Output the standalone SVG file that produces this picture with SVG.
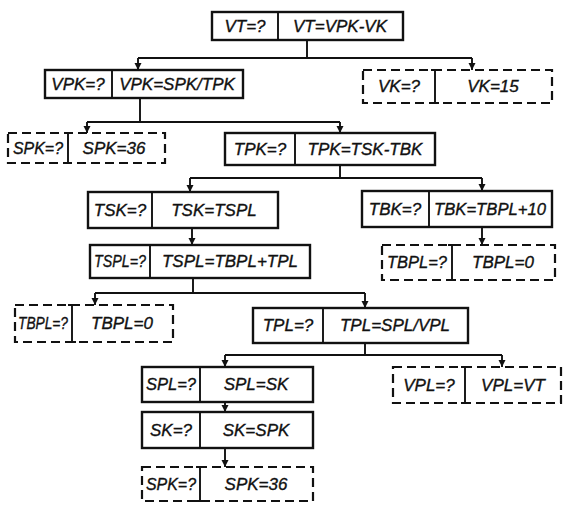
<svg xmlns="http://www.w3.org/2000/svg" width="567" height="506" viewBox="0 0 567 506">
<style>
.box{fill:#fff;stroke:#111;stroke-width:2.4}
.dbox{fill:#fff;stroke:#111;stroke-width:2.2;stroke-dasharray:9 5}
.div{stroke:#111;stroke-width:1.9;fill:none}
.t{font-family:"Liberation Sans",Arial,sans-serif;font-style:italic;font-size:17px;fill:#111;stroke:#111;stroke-width:0.35;text-anchor:middle}
.c{stroke:#111;stroke-width:1.9;fill:none}
.a{stroke:#111;stroke-width:1.9;fill:none;marker-end:url(#ah)}
</style>
<defs>
<marker id="ah" markerUnits="userSpaceOnUse" markerWidth="8" markerHeight="8" refX="7" refY="4" orient="auto">
<path d="M0,0.5 L7,4 L0,7.5 z" fill="#111"/>
</marker>
</defs>
<rect width="567" height="506" fill="#fff"/>
<g id="connectors">
<path class="c" d="M307,40 V58 M138,58 H472"/>
<path class="a" d="M138,58 V70"/>
<path class="a" d="M472,58 V70"/>
<path class="c" d="M140,98 V122 M87,122 H340"/>
<path class="a" d="M87,122 V133"/>
<path class="a" d="M340,122 V133"/>
<path class="c" d="M340,165 V178 M190,178 H482"/>
<path class="a" d="M190,178 V192"/>
<path class="a" d="M482,178 V191"/>
<path class="a" d="M192,228 V245"/>
<path class="a" d="M482,227 V245"/>
<path class="c" d="M193,278 V293 M95,293 H365"/>
<path class="a" d="M95,293 V305"/>
<path class="a" d="M365,293 V308"/>
<path class="c" d="M365,343 V355 M225,355 H502"/>
<path class="a" d="M225,355 V367"/>
<path class="a" d="M502,355 V367"/>
<path class="a" d="M225,402 V412"/>
<path class="a" d="M225,448 V467"/>
</g>
<g id="n-vt">
<rect class="box" x="212" y="12" width="191" height="28"/>
<line class="div" x1="278" y1="12" x2="278" y2="40"/>
<text class="t" x="245" y="32">VT=?</text>
<text class="t" x="340" y="32">VT=VPK-VK</text>
</g>
<g id="n-vpk">
<rect class="box" x="45" y="70" width="198" height="28"/>
<line class="div" x1="112" y1="70" x2="112" y2="98"/>
<text class="t" x="78" y="90">VPK=?</text>
<text class="t" x="177" y="90">VPK=SPK/TPK</text>
</g>
<g id="n-vk">
<rect class="dbox" x="363" y="70" width="189" height="33"/>
<path class="div" d="M435,70 V103 M431,70 H439 M431,103 H439"/>
<text class="t" x="399" y="92">VK=?</text>
<text class="t" x="493" y="92">VK=15</text>
</g>
<g id="n-spk1">
<rect class="dbox" x="8" y="133" width="157" height="30"/>
<path class="div" d="M68,133 V163 M64,133 H72 M64,163 H72"/>
<text class="t" x="38" y="154" textLength="50" lengthAdjust="spacingAndGlyphs">SPK=?</text>
<text class="t" x="114" y="154">SPK=36</text>
</g>
<g id="n-tpk">
<rect class="box" x="225" y="133" width="210" height="32"/>
<line class="div" x1="295" y1="133" x2="295" y2="165"/>
<text class="t" x="260" y="155">TPK=?</text>
<text class="t" x="365" y="155">TPK=TSK-TBK</text>
</g>
<g id="n-tsk">
<rect class="box" x="88" y="192" width="190" height="36"/>
<line class="div" x1="152" y1="192" x2="152" y2="228"/>
<text class="t" x="120" y="216">TSK=?</text>
<text class="t" x="214" y="216">TSK=TSPL</text>
</g>
<g id="n-tbk">
<rect class="box" x="362" y="191" width="190" height="36"/>
<line class="div" x1="429" y1="191" x2="429" y2="227"/>
<text class="t" x="395" y="215">TBK=?</text>
<text class="t" x="490" y="215" textLength="112" lengthAdjust="spacingAndGlyphs">TBK=TBPL+10</text>
</g>
<g id="n-tspl">
<rect class="box" x="90" y="245" width="220" height="33"/>
<line class="div" x1="150" y1="245" x2="150" y2="278"/>
<text class="t" x="120" y="267" textLength="52" lengthAdjust="spacingAndGlyphs">TSPL=?</text>
<text class="t" x="230" y="267">TSPL=TBPL+TPL</text>
</g>
<g id="n-tbpl-r">
<rect class="dbox" x="382" y="245" width="173" height="35"/>
<path class="div" d="M452,245 V280 M448,245 H456 M448,280 H456"/>
<text class="t" x="417" y="268" textLength="60" lengthAdjust="spacingAndGlyphs">TBPL=?</text>
<text class="t" x="503" y="268">TBPL=0</text>
</g>
<g id="n-tbpl-l">
<rect class="dbox" x="15" y="305" width="158" height="37"/>
<path class="div" d="M72,305 V342 M68,305 H76 M68,342 H76"/>
<text class="t" x="43" y="329" textLength="50" lengthAdjust="spacingAndGlyphs">TBPL=?</text>
<text class="t" x="122" y="329">TBPL=0</text>
</g>
<g id="n-tpl">
<rect class="box" x="253" y="308" width="215" height="35"/>
<line class="div" x1="323" y1="308" x2="323" y2="343"/>
<text class="t" x="288" y="331">TPL=?</text>
<text class="t" x="395" y="331">TPL=SPL/VPL</text>
</g>
<g id="n-spl">
<rect class="box" x="142" y="367" width="171" height="35"/>
<line class="div" x1="200" y1="367" x2="200" y2="402"/>
<text class="t" x="171" y="390" textLength="50" lengthAdjust="spacingAndGlyphs">SPL=?</text>
<text class="t" x="256" y="390">SPL=SK</text>
</g>
<g id="n-vpl">
<rect class="dbox" x="393" y="367" width="168" height="36"/>
<path class="div" d="M465,367 V403 M461,367 H469 M461,403 H469"/>
<text class="t" x="429" y="391">VPL=?</text>
<text class="t" x="513" y="391">VPL=VT</text>
</g>
<g id="n-sk">
<rect class="box" x="142" y="412" width="171" height="36"/>
<line class="div" x1="200" y1="412" x2="200" y2="448"/>
<text class="t" x="171" y="436">SK=?</text>
<text class="t" x="256" y="436">SK=SPK</text>
</g>
<g id="n-spk2">
<rect class="dbox" x="142" y="467" width="171" height="34"/>
<path class="div" d="M200,467 V501 M196,467 H204 M196,501 H204"/>
<text class="t" x="171" y="490" textLength="50" lengthAdjust="spacingAndGlyphs">SPK=?</text>
<text class="t" x="256" y="490">SPK=36</text>
</g>
</svg>
